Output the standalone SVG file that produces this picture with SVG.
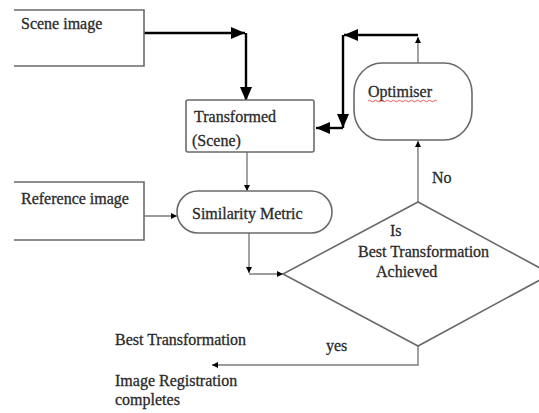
<svg xmlns="http://www.w3.org/2000/svg" width="539" height="413" viewBox="0 0 539 413">
<style>
text{font-family:"Liberation Serif","Times New Roman",serif;font-size:16px;fill:#2a2a2a;stroke:#2a2a2a;stroke-width:0.3}
.box{fill:#fff;stroke:#6a6a6a;stroke-width:1.6}
.thin{fill:none;stroke:#7a7a7a;stroke-width:1.4}
.thick{fill:none;stroke:#000;stroke-width:2.4}
</style>
<defs>
<marker id="big" viewBox="0 0 14 12" refX="14" refY="6" markerWidth="14" markerHeight="12" markerUnits="userSpaceOnUse" orient="auto"><path d="M0,0 L14,6 L0,12 Z" fill="#000"/></marker>
<marker id="small" viewBox="0 0 6 6" refX="6" refY="3" markerWidth="6" markerHeight="6" markerUnits="userSpaceOnUse" orient="auto"><path d="M0,0 L6,3 L0,6 Z" fill="#000"/></marker>
</defs>
<g id="connectors">
<path class="thick" d="M144,33 H245" marker-end="url(#big)"/>
<path class="thick" d="M246,33 V101" marker-end="url(#big)"/>
<path class="thin" d="M418,63 V37" marker-end="url(#small)"/>
<path class="thick" d="M418,35 H344" marker-end="url(#big)"/>
<path class="thick" d="M343,35 V128" marker-end="url(#big)"/>
<path class="thick" d="M343,128 H316" marker-end="url(#big)"/>
<path class="thin" d="M418,202 V141" marker-end="url(#small)"/>
<path class="thin" d="M247,152 V191" marker-end="url(#small)"/>
<path class="thin" d="M144,216 H177" marker-end="url(#small)"/>
<path class="thin" d="M249,233 V273" marker-end="url(#small)"/>
<path class="thin" d="M249,274 H283" marker-end="url(#small)"/>
<path class="thin" d="M418,346 V365 H212" marker-end="url(#small)"/>
</g>
<g id="scene">
<path class="box" d="M14,10 H144 V66 H14"/>
<text x="21" y="29">Scene image</text>
</g>
<g id="reference">
<path class="box" d="M14,182 H144 V240 H14"/>
<text x="21" y="204">Reference image</text>
</g>
<g id="transformed">
<rect class="box" x="186" y="100" width="128" height="52" rx="2"/>
<text x="194" y="122">Transformed</text>
<text x="192" y="146">(Scene)</text>
</g>
<g id="optimiser">
<rect class="box" x="354" y="63" width="118" height="77" rx="28" ry="30"/>
<text x="368" y="97" font-size="17">Optimiser</text>
<path d="M368,101 q1.5,-1.5 3,0 t3,0 t3,0 t3,0 t3,0 t3,0 t3,0 t3,0 t3,0 t3,0 t3,0 t3,0 t3,0 t3,0 t3,0 t3,0 t3,0 t3,0 t3,0 t3,0 t3,0 t3,0 t3,0" fill="none" stroke="#e03030" stroke-width="0.8"/>
</g>
<g id="similarity">
<rect class="box" x="177" y="191" width="155" height="42" rx="21"/>
<text x="192" y="219">Similarity Metric</text>
</g>
<g id="decision">
<path class="box" d="M418,202 L551,274 L418,346 L283,274 Z"/>
<text x="390" y="236">Is</text>
<text x="358" y="257">Best Transformation</text>
<text x="376" y="277">Achieved</text>
</g>
<g id="labels">
<text x="432" y="183">No</text>
<text x="326" y="351">yes</text>
<text x="115" y="345">Best Transformation</text>
<text x="115" y="386">Image Registration</text>
<text x="115" y="405">completes</text>
</g>
</svg>
